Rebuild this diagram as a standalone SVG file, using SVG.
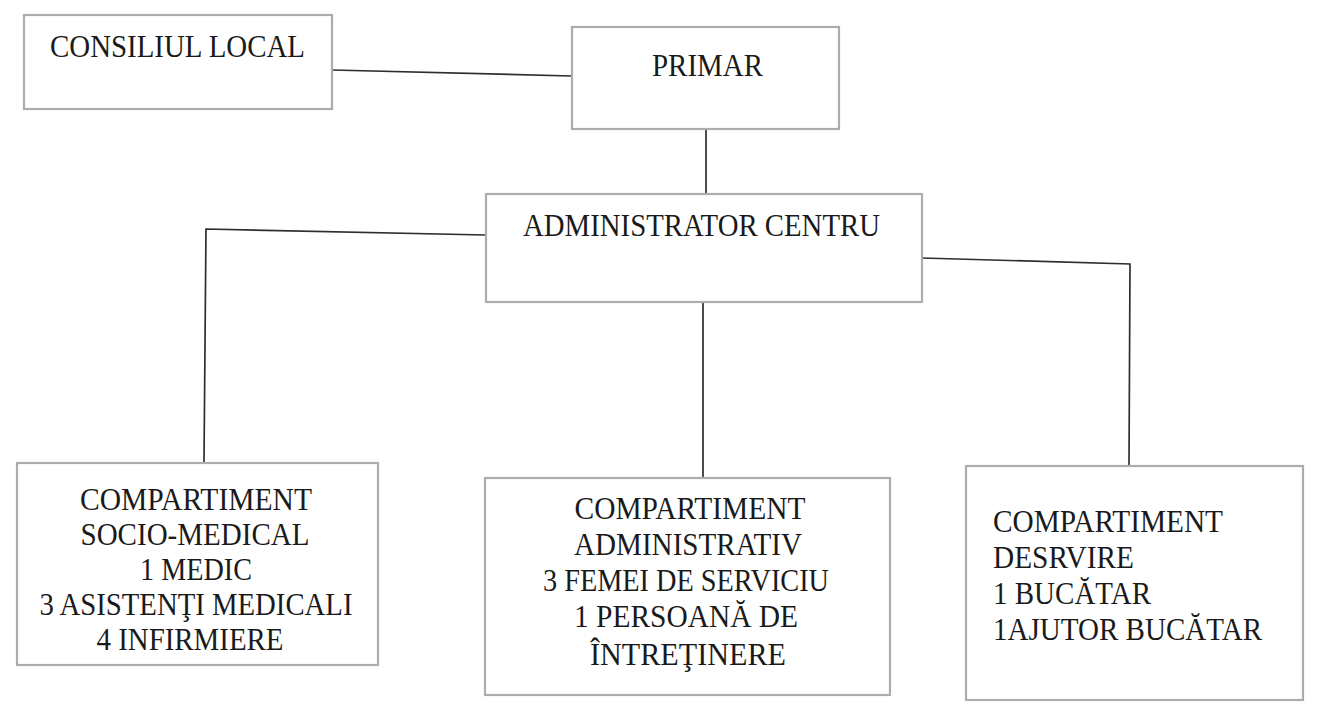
<svg xmlns="http://www.w3.org/2000/svg" width="1318" height="712" viewBox="0 0 1318 712">
<style>
.box{fill:#fff;stroke:#acacac;stroke-width:2.2}
.t{font-family:'Liberation Serif','Tinos','DejaVu Serif',serif;font-size:32px;fill:#1a1a1a}
.c{text-anchor:middle}
.ln{fill:none;stroke:#2e2e2e;stroke-width:1.7}
</style>
<rect width="1318" height="712" fill="#fff"/>
<g id="connectors">
<path class="ln" d="M332,70 L572,76"/>
<path class="ln" d="M706,129 L706,194"/>
<path class="ln" d="M486,235 L206,229 L204,463"/>
<path class="ln" d="M922,258 L1130,264 L1129,466"/>
<path class="ln" d="M703,302 L703,478"/>
</g>
<g id="consiliul">
<rect class="box" x="24" y="15" width="308" height="94"/>
<text class="t" x="50" y="57" textLength="255" lengthAdjust="spacingAndGlyphs">CONSILIUL LOCAL</text>
</g>
<g id="primar">
<rect class="box" x="572" y="27" width="267" height="102"/>
<text class="t" x="652" y="76" textLength="111" lengthAdjust="spacingAndGlyphs">PRIMAR</text>
</g>
<g id="administrator">
<rect class="box" x="486" y="194" width="436" height="108"/>
<text class="t" x="523" y="236" textLength="357" lengthAdjust="spacingAndGlyphs">ADMINISTRATOR CENTRU</text>
</g>
<g id="socio">
<rect class="box" x="17" y="463" width="361" height="202"/>
<text class="t c" x="196" y="510" textLength="232" lengthAdjust="spacingAndGlyphs">COMPARTIMENT</text>
<text class="t c" x="195" y="545" textLength="229" lengthAdjust="spacingAndGlyphs">SOCIO-MEDICAL</text>
<text class="t c" x="196" y="580" textLength="112" lengthAdjust="spacingAndGlyphs">1 MEDIC</text>
<text class="t c" x="196" y="615" textLength="313" lengthAdjust="spacingAndGlyphs">3 ASISTENŢI MEDICALI</text>
<text class="t c" x="190" y="650" textLength="187" lengthAdjust="spacingAndGlyphs">4 INFIRMIERE</text>
</g>
<g id="administrativ">
<rect class="box" x="485" y="478" width="405" height="217"/>
<text class="t c" x="690" y="519" textLength="231" lengthAdjust="spacingAndGlyphs">COMPARTIMENT</text>
<text class="t c" x="688" y="555" textLength="228" lengthAdjust="spacingAndGlyphs">ADMINISTRATIV</text>
<text class="t c" x="686" y="591" textLength="286" lengthAdjust="spacingAndGlyphs">3 FEMEI DE SERVICIU</text>
<text class="t c" x="686" y="627" textLength="224" lengthAdjust="spacingAndGlyphs">1 PERSOANĂ DE</text>
<text class="t c" x="688" y="665" textLength="196" lengthAdjust="spacingAndGlyphs">ÎNTREŢINERE</text>
</g>
<g id="deservire">
<rect class="box" x="966" y="466" width="337" height="234"/>
<text class="t" x="993" y="532" textLength="230" lengthAdjust="spacingAndGlyphs">COMPARTIMENT</text>
<text class="t" x="993" y="568" textLength="141" lengthAdjust="spacingAndGlyphs">DESRVIRE</text>
<text class="t" x="993" y="604" textLength="158" lengthAdjust="spacingAndGlyphs">1 BUCĂTAR</text>
<text class="t" x="993" y="640" textLength="269" lengthAdjust="spacingAndGlyphs">1AJUTOR BUCĂTAR</text>
</g>
</svg>
